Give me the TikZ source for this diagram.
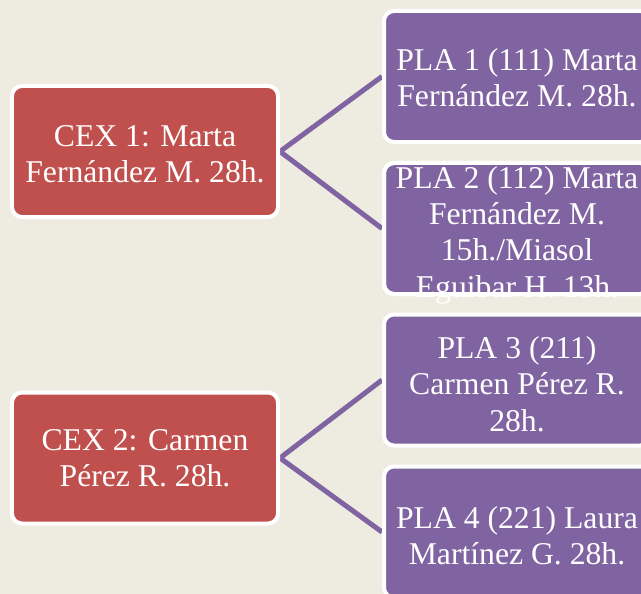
\documentclass[tikz,border=0pt]{standalone}
\usepackage{fontspec}
\setmainfont{Liberation Serif}
\usetikzlibrary{backgrounds}
\definecolor{bgtan}{HTML}{EEECE1}
\definecolor{cexred}{HTML}{C0504D}
\definecolor{plapurple}{HTML}{8064A2}
\tikzset{
  boxbase/.style={rectangle, rounded corners=10bp, draw=white, line width=4bp,
    minimum width=266bp, minimum height=131bp, inner sep=0pt},
  cexbox/.style={boxbase, fill=cexred},
  plabox/.style={boxbase, fill=plapurple},
  label/.style={text=white, align=center, font=\fontsize{31.8}{36.5}\selectfont},
  link/.style={draw=plapurple, line width=5bp}
}
\begin{document}
\begin{tikzpicture}[x=1bp,y=-1bp]
\useasboundingbox (0,0) rectangle (641,594);
\clip (0,0) rectangle (641,594);
% boxes
\node[cexbox] (c1) at (145,151.5) {};
\node[cexbox] (c2) at (145,458) {};
\node[plabox] (p1) at (517,76.5) {};
\node[plabox] (p2) at (517,228.5) {};
\node[plabox] (p3) at (517,380) {};
\node[plabox] (p4) at (517,532) {};
% connectors and background behind boxes
\begin{scope}[on background layer]
\fill[bgtan] (0,0) rectangle (641,594);
\draw[link] (c1.east) -- (p1.west);
\draw[link] (c1.east) -- (p2.west);
\draw[link] (c2.east) -- (p3.west);
\draw[link] (c2.east) -- (p4.west);
\end{scope}
% texts
\node[label] (t1) at (145,154) {CEX 1: Marta\\Fernández M. 28h.};
\node[label] (t2) at (145,458) {CEX 2: Carmen\\Pérez R. 28h.};
\node[label] (t3) at (517,78) {PLA 1 (111) Marta\\Fernández M. 28h.};
\node[label] (t4) at (517,235) {PLA 2 (112) Marta\\Fernández M.\\15h./Miasol\\Eguibar H. 13h.};
\node[label] (t5) at (517,384) {PLA 3 (211)\\Carmen Pérez R.\\28h.};
\node[label] (t6) at (517,536) {PLA 4 (221) Laura\\Martínez G. 28h.};
% border of overflowing box drawn over its text
\node[boxbase] (p2c) at (p2) {};
\end{tikzpicture}
\end{document}
